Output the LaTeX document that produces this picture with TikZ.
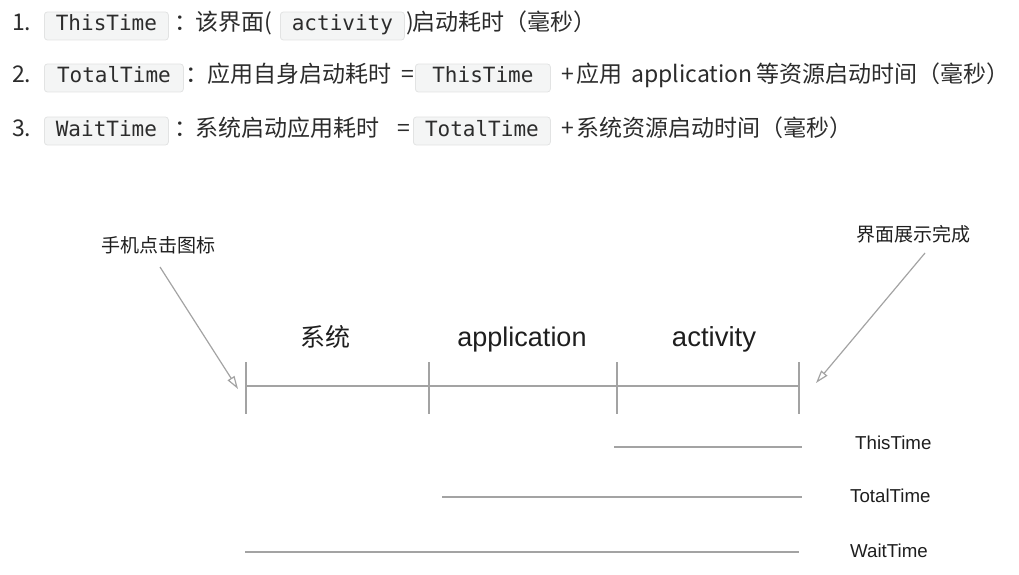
\documentclass[tikz,border=0pt]{standalone}
\usepackage{fontspec}
\setmainfont{Noto Sans CJK SC}
\newfontfamily\cjk{Noto Sans CJK SC}
\newfontfamily\codefont{DejaVu Sans Mono}
\newfontfamily\helv{Liberation Sans}
\usetikzlibrary{arrows.meta}
\definecolor{txtgray}{HTML}{2C2C2C}
\definecolor{boxfill}{HTML}{F4F5F5}
\definecolor{boxline}{HTML}{E2E3E3}
\definecolor{linegray}{HTML}{A3A3A3}
\definecolor{dtext}{HTML}{1E1E1E}
\tikzset{
  hdr/.style={anchor=base west, inner sep=0pt, text=txtgray, font=\cjk\fontsize{23}{23}\selectfont},
  codebox/.style={anchor=base west, draw=boxline, fill=boxfill, rounded corners=3pt, line width=0.8pt,
    inner xsep=0pt, inner ysep=4pt, text height=15pt, text depth=5pt, text=txtgray,
    font=\codefont\fontsize{21}{21}\selectfont},
  seg/.style={draw=linegray, line width=1.4pt},
  tick/.style={draw=linegray, line width=1.4pt},
  phase/.style={anchor=base, inner sep=0pt, text=dtext},
  spanlbl/.style={anchor=west, inner sep=0pt, text=dtext, font=\helv\fontsize{18.7}{18.7}\selectfont},
  callout/.style={inner sep=0pt, text=dtext, font=\cjk\fontsize{19}{19}\selectfont},
  arr/.style={draw=linegray, line width=1.2pt, -{Triangle[open, length=13pt, width=8pt]}}
}
\begin{document}
\begin{tikzpicture}[x=1pt, y=-1pt]
\useasboundingbox (0,0) rectangle (1019,575);
% ---------- header line 1 ----------
\node[hdr] (n1) at (12,31) {1.};
\node[codebox, minimum width=124pt] (c11) at (44,31) {ThisTime};
\node[hdr] (k1) at (174,31) {：};
\node[hdr] (t11) at (195,31) {该界面};
\node[hdr] (p11) at (264,31) {(};
\node[codebox, minimum width=124pt] (c12) at (280,31) {activity};
\node[hdr] (p12) at (406,31) {)};
\node[hdr] (t12) at (412,31) {启动耗时（毫秒）};
% ---------- header line 2 ----------
\node[hdr] (n2) at (12,83) {2.};
\node[codebox, minimum width=139pt] (c21) at (44,83) {TotalTime};
\node[hdr] (k2) at (185,83) {：};
\node[hdr] (t21) at (207,83) {应用自身启动耗时};
\node[hdr] (e2) at (401,83) {=};
\node[codebox, minimum width=135pt] (c22) at (415,83) {ThisTime};
\node[hdr] (pl2) at (561,83) {+};
\node[hdr] (t22) at (576,83) {应用};
\node[hdr] (t23) at (631,83) {application};
\node[hdr] (t24) at (756,83) {等资源启动时间（毫秒）};
% ---------- header line 3 ----------
\node[hdr] (n3) at (12,136) {3.};
\node[codebox, minimum width=124pt] (c31) at (44,136) {WaitTime};
\node[hdr] (k3) at (174,136) {：};
\node[hdr] (t31) at (195,136) {系统启动应用耗时};
\node[hdr] (e3) at (397,136) {=};
\node[codebox, minimum width=137pt] (c32) at (413,136) {TotalTime};
\node[hdr] (pl3) at (561,136) {+};
\node[hdr] (t32) at (576,136) {系统资源启动时间（毫秒）};
% ---------- timeline ----------
\coordinate (p1) at (246,386);
\coordinate (p2) at (429,386);
\coordinate (p3) at (617,386);
\coordinate (p4) at (799,386);
\draw[seg] (p1) -- (p4);
\foreach \p in {p1,p2,p3,p4}{
  \draw[tick] ([yshift=24pt]\p) -- ([yshift=-28pt]\p);
}
\node[phase, font=\cjk\fontsize{25}{25}\selectfont] (ph1) at (325,346) {系统};
\node[phase, font=\helv\fontsize{27}{27}\selectfont] (ph2) at (522,346) {application};
\node[phase, font=\helv\fontsize{27.5}{27.5}\selectfont] (ph3) at (714,346) {activity};
% ---------- callouts ----------
\node[callout] (cl) at (158,245) {手机点击图标};
\node[callout] (cr) at (913,234) {界面展示完成};
\coordinate (cls) at (160,267);
\coordinate (clt) at (238,389);
\coordinate (crs) at (925,253);
\coordinate (crt) at (816,383);
\draw[arr] (cls) -- (clt);
\draw[arr] (crs) -- (crt);
% ---------- spans ----------
\coordinate (s1a) at (614,447); \coordinate (s1b) at (802,447);
\coordinate (s2a) at (442,497); \coordinate (s2b) at (802,497);
\coordinate (s3a) at (245,552); \coordinate (s3b) at (799,552);
\draw[seg] (s1a) -- (s1b);
\draw[seg] (s2a) -- (s2b);
\draw[seg] (s3a) -- (s3b);
\node[spanlbl] (l1) at (855,443) {ThisTime};
\node[spanlbl] (l2) at (850,496) {TotalTime};
\node[spanlbl] (l3) at (850,551) {WaitTime};
\end{tikzpicture}
\end{document}
